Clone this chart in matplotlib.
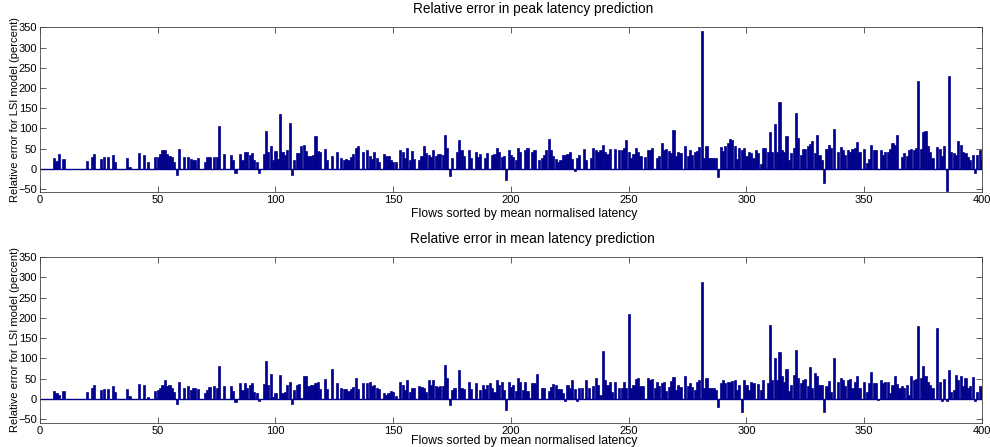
import numpy as np
import matplotlib
matplotlib.use('Agg')
import matplotlib.pyplot as plt

# relative error (percent) per flow, flows 1..400
peak_err = [
    0, 0, 0, 0, 0, 28, 20, 37, 0, 25,
    0, 0, 0, 0, 0, 0, 0, 0, 0, 20,
    0, 30, 37, 0, 0, 25, 30, 0, 30, 0,
    35, 18, 0, 0, 0, 0, 27, 5, 0, 0,
    0, 39, 0, 35, 0, 18, 0, 0, 29, 29,
    37, 47, 47, 37, 32, 30, 18, -15, 49, 0,
    30, 0, 30, 25, 22, 22, 27, 0, 0, 16,
    29, 29, 0, 29, 29, 107, 0, 37, 0, 0,
    35, 22, -11, 0, 37, 22, 43, 43, 35, 39,
    22, 18, -9, 0, 37, 93, 43, 56, 21, 45,
    25, 135, 43, 35, 47, 114, -15, 22, 39, 39,
    56, 60, 45, 32, 32, 35, 81, 45, 41, 0,
    49, 22, 0, 32, 0, 41, 0, 27, 22, 24,
    22, 29, 38, 52, 56, 0, 41, 0, 46, 32,
    24, 41, 28, 18, 0, 37, 31, 31, 22, 18,
    16, 0, 46, 43, 27, 52, 22, 45, 24, 0,
    22, 31, 57, 39, 35, 29, 46, 31, 37, 37,
    35, 85, 52, -17, 27, 0, 41, 72, 46, 31,
    0, 47, 27, 0, 41, 29, 37, 0, 27, 39,
    0, 35, 37, 52, 43, 29, 31, -27, 47, 35,
    29, 22, 52, 43, 0, 46, 52, 0, 43, 47,
    0, 22, 27, 35, 47, 74, 46, 32, 24, 18,
    22, 35, 35, 37, 41, 24, -5, 27, 35, 0,
    49, 22, 0, 27, 52, 46, 43, 47, 60, 43,
    37, 49, 0, 49, 0, 46, 47, 52, 72, 43,
    27, 37, 52, 43, 32, 0, 29, 47, 46, 52,
    0, 27, 32, 64, 46, 50, 45, 40, 95, 31,
    43, 39, 0, 57, 32, 46, 35, 43, 45, 54,
    341, 27, 57, 27, 27, 27, 27, -19, 53, 45,
    57, 64, 74, 72, 56, 24, 52, 47, 52, 31,
    43, 39, 27, 47, 39, 12, 52, 52, 43, 91,
    43, 112, 43, 166, 47, 43, 82, 22, 39, 52,
    137, 77, 35, 49, 49, 56, 62, 68, 39, 85,
    35, 22, -36, 49, 60, 52, 99, 0, 43, 54,
    47, 35, 47, 43, 49, 52, 66, 43, 0, 49,
    14, 24, 60, 46, 46, 0, 47, 35, 41, 43,
    49, 64, 60, 85, 0, 29, 39, 31, 47, 49,
    47, 52, 217, 49, 91, 93, 56, 41, 27, 0,
    54, 49, 32, 57, -55, 230, 43, 39, 35, 70,
    60, 43, 39, 29, 21, 35, -11, 35, 46, 22,
]

mean_err = [
    0, 0, 0, 0, 0, 21, 16, 10, 0, 21,
    0, 0, 0, 0, 0, 0, 0, 0, 0, 18,
    0, 27, 35, 0, 0, 22, 24, 0, 24, 0,
    31, 18, 0, 0, 0, 0, 24, 7, 0, 0,
    0, 37, 0, 35, 0, 4, 0, 0, 20, 22,
    28, 35, 47, 31, 35, 27, 18, -12, 43, 0,
    27, 0, 32, 22, 27, 26, 24, 0, 0, 16,
    22, 29, 0, 32, 27, 82, 0, 32, 0, 0,
    31, 21, -8, 0, 39, 22, 39, 27, 35, 39,
    18, 14, -4, 0, 37, 93, 35, 62, 6, 14,
    0, 60, 14, 18, 35, 43, -12, 22, 35, 37,
    2, 57, 57, 31, 35, 35, 39, 41, 24, 0,
    49, 24, 0, 74, 0, 39, 0, 27, 24, 24,
    20, 24, 29, 53, 24, 0, 39, 0, 39, 41,
    31, 35, 27, 24, 0, 16, 10, 16, 20, 18,
    7, 0, 41, 35, 22, 46, 18, 27, 27, 0,
    32, 29, 27, 18, 46, 35, 46, 32, 29, 31,
    32, 85, 52, -15, 22, 27, 0, 71, 27, 24,
    0, 43, 24, 0, 39, 0, 22, 35, 24, 35,
    39, 27, 18, 46, 35, 41, 22, -26, 41, 30,
    35, 21, 52, 43, 22, 43, 21, 2, 39, 39,
    62, 0, 27, 27, 0, 21, 29, 37, 35, 24,
    24, 16, -4, 35, 27, 46, 24, -4, 27, 27,
    0, 46, 27, 0, 31, 52, 35, 10, 118, 47,
    35, 43, 18, 43, 0, 27, 27, 43, 27, 210,
    27, 35, 49, 52, 32, 32, 0, 52, 47, 49,
    27, 43, 31, 39, 41, 20, 30, 45, 54, 22,
    35, 29, 0, 57, 31, 39, 29, 22, 41, 47,
    289, 27, 52, 27, 27, 27, 22, -19, 39, 46,
    39, 43, 43, 45, 46, 22, 35, -32, 47, 35,
    22, 41, 39, 0, 37, 22, 47, 0, 39, 182,
    47, 102, 47, 116, 56, 43, 74, 21, 35, 60,
    120, 52, 39, 47, 49, 31, 78, 27, 64, 57,
    35, 35, -32, 31, 45, 18, 102, 0, 43, 52,
    46, 31, 47, 49, 27, 43, 57, 27, 0, 43,
    18, 39, 66, 39, 39, -2, 47, 39, 43, 41,
    14, 35, 57, 37, 27, 31, 27, 35, 10, 57,
    47, 49, 179, 52, 82, 56, 43, 35, 27, 0,
    174, 43, -4, 49, -4, 71, 18, 22, 60, 47,
    56, 32, 52, 27, 31, 54, -5, 18, 31, 27,
]

titles = ['Relative error in peak latency prediction',
          'Relative error in mean latency prediction']
xlabel = 'Flows sorted by mean normalised latency'
ylabel = 'Relative error for LSI model (percent)'

bar_color = '#00008c'
plt.rcParams['font.family'] = ['Liberation Sans', 'DejaVu Sans']

flows = np.arange(1, len(peak_err) + 1)

fig = plt.figure(figsize=(9.9, 4.47), dpi=100)
# axes boxes in figure fractions
ax_top = fig.add_axes([0.0404, 0.5705, 0.9515, 0.3685])
ax_bot = fig.add_axes([0.0404, 0.0537, 0.9515, 0.3714])

for ax, data, title, ylim in [(ax_top, peak_err, titles[0], (-57, 350)),
                               (ax_bot, mean_err, titles[1], (-59, 350))]:
    ax.bar(flows, data, width=0.9, color=bar_color, edgecolor=bar_color,
           linewidth=0.5)
    ax.axhline(0, color=bar_color, lw=1.0)
    ax.set_xlim(0, 400)
    ax.set_ylim(*ylim)
    ax.set_xticks(np.arange(0, 401, 50))
    ax.set_yticks(np.arange(-50, 351, 50))
    ax.tick_params(direction='in', top=True, right=True, labelsize=8,
                   length=4, width=0.6, pad=2, color='#444444')
    for s in ax.spines.values():
        s.set_linewidth(0.6)
        s.set_color('#444444')
    ax.set_title(title, fontsize=9.8, pad=10, x=0.523)
    ax.set_xlabel(xlabel, fontsize=8.8)
    ax.set_ylabel(ylabel, fontsize=8)
    ax.yaxis.set_label_coords(-0.021, 0.5)

ax_top.xaxis.set_label_coords(0.514, -0.1)
ax_bot.xaxis.set_label_coords(0.514, -0.075)

fig.savefig('out.png', dpi=100)
